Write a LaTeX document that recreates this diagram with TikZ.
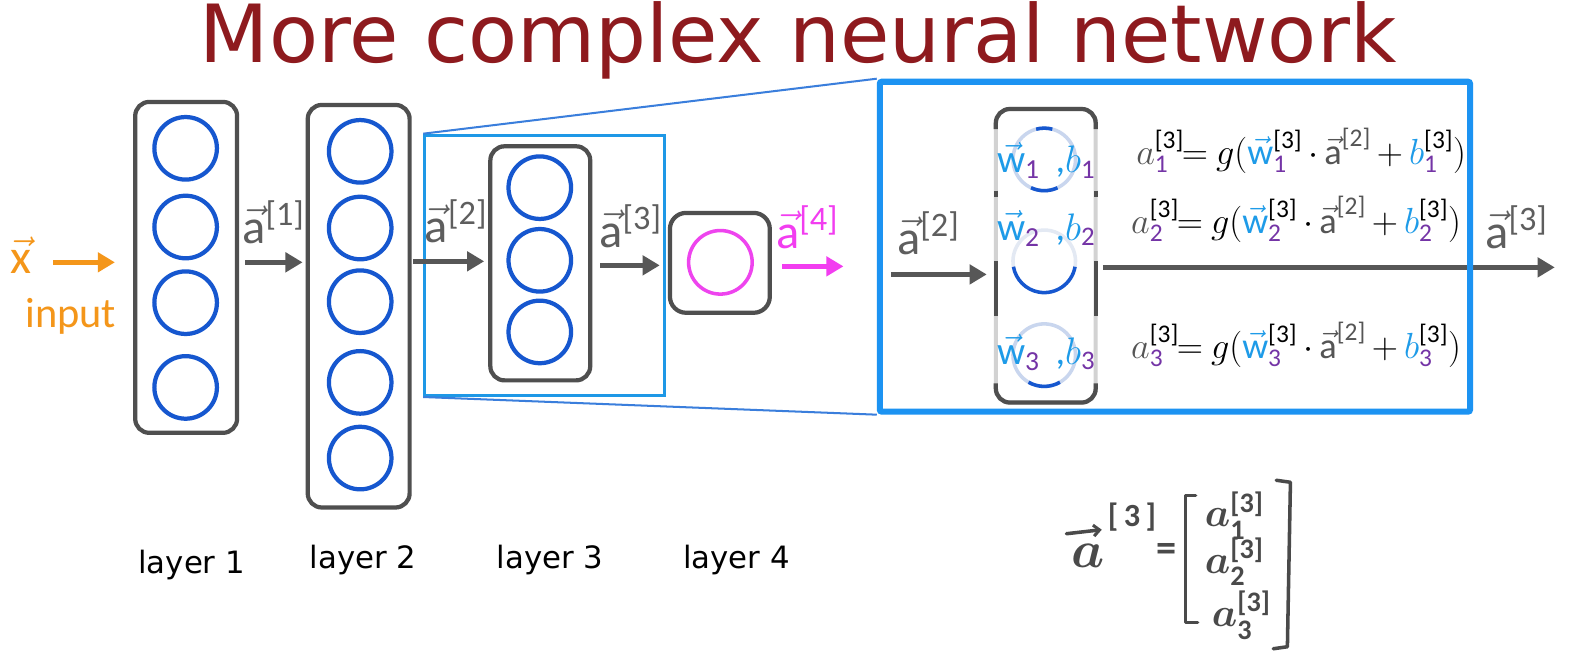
\RequirePackage{fix-cm}
\documentclass[tikz,border=0pt]{standalone}
\usepackage{amsmath}
\usepackage{fontspec}
\setmainfont{Carlito}
\newfontfamily\dejavu{DejaVu Sans}
\usetikzlibrary{arrows.meta,calc}

\definecolor{titlered}{HTML}{8E1A1E}
\definecolor{boxgray}{HTML}{4F4F4F}
\definecolor{argray}{HTML}{575757}
\definecolor{nblue}{HTML}{1657CF}
\definecolor{zoomblue}{HTML}{1E98E6}
\definecolor{bigblue}{HTML}{1C93F2}
\definecolor{linkblue}{HTML}{3A7EDC}
\definecolor{pinkc}{HTML}{EE44EE}
\definecolor{magar}{HTML}{F23DF0}
\definecolor{orangec}{HTML}{F4961A}
\definecolor{labgray}{HTML}{5E5E5E}
\definecolor{subpurple}{HTML}{7434A6}
\definecolor{wblue}{HTML}{1E9BE8}
\definecolor{eqgray}{HTML}{555555}
\definecolor{fadeblue}{HTML}{C9D6EE}
\definecolor{faintblue}{HTML}{E3E9F3}
\definecolor{fadegray}{HTML}{D2D2D2}
\definecolor{hand}{HTML}{4A4A4A}

\newcommand{\avec}[1]{$\vec{\text{a}}$\raisebox{0.36em}{\fontsize{34}{34}\selectfont[#1]}}
\newcommand{\eqrow}[1]{$\medmuskip=3mu\relax\thickmuskip=2mu\relax\textcolor{eqgray}{a}_{\textcolor{subpurple}{\text{#1}}}^{\text{[3]}}\!=\;g(\textcolor{wblue}{\vec{\text{w}}}_{\textcolor{subpurple}{\text{#1}}}^{\text{[3]}}\cdot\textcolor{eqgray}{\vec{\text{a}}^{\text{[2]}}}+\textcolor{wblue}{b}_{\textcolor{subpurple}{\text{#1}}}^{\text{[3]}})$}
\newcommand{\wlab}[1]{$\textcolor{wblue}{\vec{\text{w}}}_{\textcolor{subpurple}{\text{#1}}}$}
\newcommand{\blab}[1]{$\textcolor{wblue}{\text{,}b}_{\textcolor{subpurple}{\text{#1}}}$}

\tikzset{
  layerbox/.style={draw=boxgray, line width=4.2pt, rounded corners=14pt, inner sep=0pt},
  neuron/.style={circle, draw=nblue, line width=4.2pt, minimum size=62pt, inner sep=0pt},
  flow/.style={draw=argray, line width=5.5pt, -{Triangle[length=17pt,width=19pt]}},
  lbl/.style={inner sep=0pt, anchor=base west, text=labgray, font=\fontsize{48}{48}\selectfont},
  layerlbl/.style={inner sep=0pt, anchor=base, font=\dejavu\fontsize{30.5}{31}\selectfont},
  eq/.style={inner sep=0pt, anchor=base west, font=\fontsize{36}{36}\selectfont},
  faint/.style={line width=3.5pt},
  hw/.style={inner sep=0pt, text=hand},
}

\begin{document}
\begin{tikzpicture}[x=1pt,y=-1pt]
\fill[white] (0,0) rectangle (1568,659);
\useasboundingbox (0,0) rectangle (1568,659);

% title
\node[anchor=base west, inner sep=0pt, text=titlered, font=\dejavu\fontsize{79.5}{80}\selectfont] (title) at (198,62) {More complex neural network};

% layer 1
\node[layerbox, minimum width=101pt, minimum height=328pt] (L1) at (184.5,265) {};
\node[neuron] (n11) at (184,147) {};
\node[neuron] (n12) at (184,225) {};
\node[neuron] (n13) at (184,300) {};
\node[neuron] (n14) at (184,384) {};

% layer 2
\node[layerbox, minimum width=101pt, minimum height=399pt] (L2) at (355.5,303.5) {};
\node[neuron] (n21) at (357,150) {};
\node[neuron] (n22) at (357,226) {};
\node[neuron] (n23) at (357,299) {};
\node[neuron] (n24) at (357,379) {};
\node[neuron] (n25) at (357,454) {};

% zoom frame around layer 3
\node[draw=zoomblue, line width=3pt, minimum width=238pt, minimum height=258pt, inner sep=0pt] (ZB) at (540,263) {};

% layer 3
\node[layerbox, minimum width=99pt, minimum height=232pt] (L3) at (535.5,261) {};
\node[neuron] (n31) at (535,186) {};
\node[neuron] (n32) at (535,258) {};
\node[neuron] (n33) at (535,329) {};

% layer 4
\node[layerbox, rounded corners=16pt, minimum width=99pt, minimum height=99pt] (L4) at (713.5,260.5) {};
\node[neuron, draw=pinkc, line width=3.5pt, minimum size=63pt] (n41) at (714,260) {};

% input
\node[lbl, text=orangec] (xin) at (10,271) {$\vec{\text{x}}$};
\node[lbl, text=orangec, font=\fontsize{42}{42}\selectfont] (inp) at (25,325) {input};
\coordinate (xs) at (53,260);
\draw[flow, draw=orangec, shorten >=18pt] (xs) -- (L1.west |- xs);

% arrows between layers
\coordinate (ya1) at (0,260);
\coordinate (ya2) at (0,259);
\coordinate (ya3) at (0,263);
\coordinate (ya4) at (0,264);
\draw[flow, shorten <=6pt, shorten >=3pt] (L1.east |- ya1) -- (L2.west |- ya1);
\node[lbl] (la1) at (240,241) {\avec{1}};
\draw[flow, shorten <=1pt, shorten >=4pt] (L2.east |- ya2) -- (L3.west |- ya2);
\node[lbl] (la2) at (421,240) {\avec{2}};
\draw[flow, shorten <=8pt, shorten >=8pt] (L3.east |- ya3) -- (L4.west |- ya3);
\node[lbl] (la3) at (594,245) {\avec{3}};
\coordinate (a4end) at (836,264);
\draw[flow, draw=magar, line width=5pt, shorten <=10pt] (L4.east |- ya4) -- (a4end);
\node[lbl, text=magar] (la4) at (769,246) {\avec{4}};

% layer labels
\node[layerlbl] (t1) at (190,568) {layer 1};
\node[layerlbl] (t2) at (360,563) {layer 2};
\node[layerlbl] (t3) at (545,563) {layer 3};
\node[layerlbl] (t4) at (730,563) {layer 4};

% zoomed-in layer 3
\node[draw=fadegray, line width=4pt, rounded corners=14pt, minimum width=99pt, minimum height=291pt, inner sep=0pt] (IB) at (1036.5,253.5) {};
\draw[boxgray, line width=4.2pt, rounded corners=14pt] (987,128) -- (987,108) -- (1086,108) -- (1086,128);
\draw[boxgray, line width=4.2pt, rounded corners=14pt] (987,380) -- (987,399) -- (1086,399) -- (1086,380);
\draw[boxgray, line width=4.2pt] (987,259) -- (987,313);
\draw[boxgray, line width=4.2pt] (1086,259) -- (1086,313);
\draw[boxgray, line width=4.2pt] (987,189) -- (987,195);
\draw[boxgray, line width=4.2pt] (1086,189) -- (1086,195);

\coordinate (c1) at (1035,158);
\coordinate (c2) at (1035,259);
\coordinate (c3) at (1035,352);
\draw[fadeblue, faint] (c1) circle (31);
\draw[nblue, faint] ($(c1)+(65:31)$) arc (65:115:31);
\draw[nblue, faint] ($(c1)+(255:31)$) arc (255:285:31);
\draw[faintblue, faint] ($(c2)+(170:31)$) arc (170:370:31);
\draw[nblue, faint] ($(c2)+(10:31)$) arc (10:170:31);
\draw[fadeblue, faint] (c3) circle (31);
\draw[nblue, faint] ($(c3)+(60:31)$) arc (60:120:31);

\node[eq, font=\fontsize{39}{39}\selectfont] (w1) at (988,171) {\wlab{1}};
\node[eq, font=\fontsize{38}{38}\selectfont] (b1) at (1046,171) {\blab{1}};
\node[eq, font=\fontsize{39}{39}\selectfont] (w2) at (988,238) {\wlab{2}};
\node[eq, font=\fontsize{38}{38}\selectfont] (b2) at (1046,238) {\blab{2}};
\node[eq, font=\fontsize{39}{39}\selectfont] (w3) at (988,361) {\wlab{3}};
\node[eq, font=\fontsize{38}{38}\selectfont] (b3) at (1046,361) {\blab{3}};

\node[eq] (e1) at (1126,163) {\eqrow{1}};
\node[eq] (e2) at (1121,231) {\eqrow{2}};
\node[eq] (e3) at (1121,355) {\eqrow{3}};

\coordinate (bin) at (883,272);
\draw[flow, shorten >=7pt] (bin) -- (IB.west |- bin);
\node[lbl] (lb2) at (889,252) {\avec{2}};
\coordinate (outend) at (1541,265);
\draw[flow, shorten <=5pt] (IB.east |- outend) -- (outend);
\node[lbl] (lb3) at (1472,246) {\avec{3}};

% big zoom frame
\node[draw=bigblue, line width=6pt, rounded corners=2pt, minimum width=585pt, minimum height=327pt, inner sep=0pt] (BB) at (1164.5,244.5) {};
\draw[linkblue, line width=2pt] (ZB.north west) -- (BB.north west);
\draw[linkblue, line width=2pt] (ZB.south west) -- (BB.south west);

% handwritten vector
\node[hw, anchor=base, font=\fontsize{52}{52}\selectfont\boldmath] (ha) at (1078,562) {$a$};
\draw[hand, line width=3.5pt, line cap=round, -{Straight Barb[length=6pt,width=11pt,line width=3pt]}] (1057,529) -- (1092,525);
\node[hw, font=\fontsize{32}{32}\selectfont\bfseries] (hs) at (1122,513) {[\,3\,]};
\node[hw, font=\fontsize{40}{40}\selectfont\bfseries] (heq) at (1156,548) {=};
\draw[hand, line width=3.5pt, line cap=round, line join=round] (1185,491) -- (1175,491) -- (1175,617) -- (1187,617);
\draw[hand, line width=3.5pt, line cap=round, line join=round] (1265,476) -- (1279,478) -- (1276,641) -- (1262,643);
\node[hw, anchor=base west, font=\fontsize{40}{40}\selectfont\bfseries\boldmath] (h1) at (1194,522) {$a^{\text{[3]}}_{\text{1}}$};
\node[hw, anchor=base west, font=\fontsize{40}{40}\selectfont\bfseries\boldmath] (h2) at (1194,568) {$a^{\text{[3]}}_{\text{2}}$};
\node[hw, anchor=base west, font=\fontsize{40}{40}\selectfont\bfseries\boldmath] (h3) at (1201,621) {$a^{\text{[3]}}_{\text{3}}$};
\end{tikzpicture}
\end{document}
